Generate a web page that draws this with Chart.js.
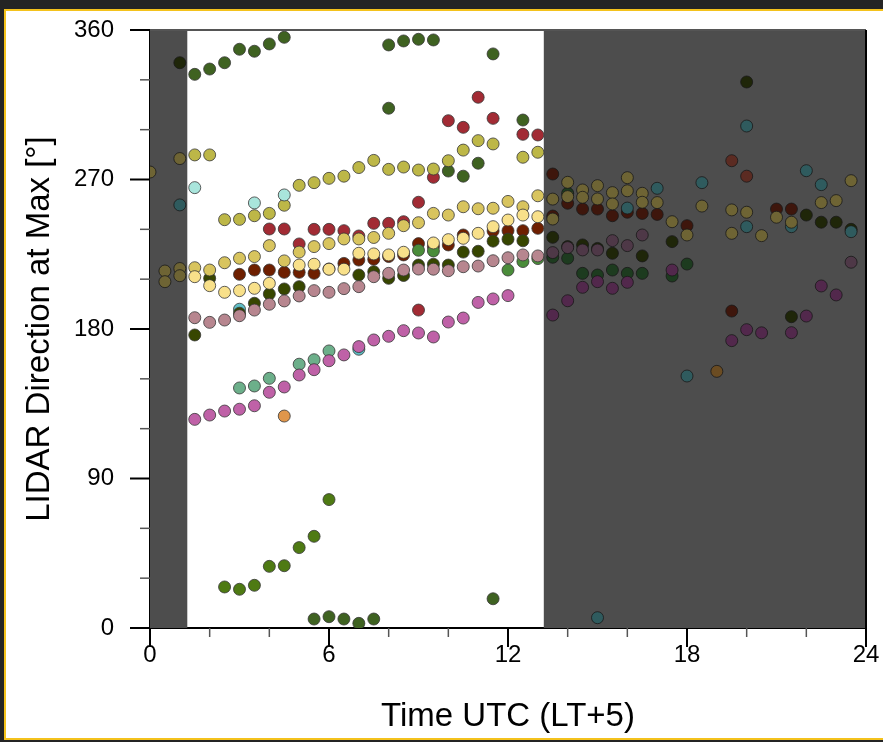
<!DOCTYPE html>
<html>
<head>
<meta charset="utf-8">
<title>LIDAR direction at max</title>
<script src="https://cdn.jsdelivr.net/npm/chart.js@4.4.1/dist/chart.umd.min.js"></script>
<style>
  html, body { margin: 0; padding: 0; background: #242424; overflow: hidden; }
  #frame { position: absolute; left: 4px; top: 9px; width: 900px; height: 727px; border: 2px solid #f4c21c; background: #fff; }
  #chart { position: absolute; left: 0; top: 0; }
</style>
</head>
<body>
<div id="frame"></div>
<canvas id="chart" width="883" height="742"></canvas>
<script>
// shaded (night) blocks, hours UTC
const nightEnd = 1.25;
const nightStart = 13.2;

const xTickValues = [0, 6, 12, 18, 24];
const xMinorTicks = [2, 4, 8, 10, 14, 16, 20, 22];
const yTickValues = [0, 90, 180, 270, 360];
const yMinorTicks = [30, 60, 120, 150, 210, 240, 300, 330];

// daytime series
const magentaX = [1.5, 2, 2.5, 3, 3.5, 4, 4.5, 5, 5.5, 6, 6.5, 7, 7.5, 8, 8.5, 9, 9.5, 10, 10.5, 11, 11.5, 12];
const magentaY = [125.6, 128.2, 130.6, 131.7, 133.8, 141.9, 145.1, 152.3, 155.5, 160.9, 164.4, 169.4, 173.4, 175.6, 179, 177.6, 175.2, 184.2, 186.6, 196, 198.1, 200.1];
const mauveX = [1.5, 2, 2.5, 3, 3.5, 4, 4.5, 5, 5.5, 6, 6.5, 7, 7.5, 8, 8.5, 9, 9.5, 10, 10.5, 11, 11.5, 12, 12.5, 13];
const mauveY = [186.8, 184, 185.4, 188, 191.4, 194.9, 196.9, 199.9, 203.1, 202.1, 204.3, 205.5, 211.5, 213.5, 215.5, 216.1, 216, 215.1, 217.5, 217.9, 221.1, 222.9, 224.6, 224];
const lightYellowX = [1.5, 2, 2.5, 3, 3.5, 4, 5, 5.5, 6, 6.5, 7, 7.5, 8, 8.5, 9.5, 10, 10.5, 11, 11.5, 12, 12.5, 13];
const lightYellowY = [211.5, 206.1, 202.1, 203.1, 204.5, 207.5, 218.5, 219, 216, 216, 225.6, 225.2, 224.6, 226.2, 231.8, 233.8, 234.6, 237.6, 241.6, 245.6, 248.6, 247.6];
const goldX = [1.5, 2, 2.5, 3, 3.5, 4, 4.5, 5, 5.5, 6, 6.5, 7, 7.5, 8, 8.5, 9, 9.5, 10, 10.5, 11, 11.5, 12, 12.5, 13];
const goldY = [216.9, 215.5, 219.9, 222.6, 223.6, 230.2, 221, 226.3, 229.6, 231.4, 234.2, 234.2, 235.1, 237.6, 242.2, 244, 249.6, 248.6, 253.6, 252.4, 252.7, 256.8, 253.6, 260.2];
const oliveX = [1.5, 2, 2.5, 3, 3.5, 4, 4.5, 5, 5.5, 6, 6.5, 7, 7.5, 8, 8.5, 9, 9.5, 10, 10.5, 11, 11.5, 12.5, 13];
const oliveY = [284.8, 284.8, 245.8, 246, 248.2, 249.6, 254.5, 266.5, 268.1, 270.7, 272, 277.2, 281.5, 276.1, 277.5, 275.7, 276.3, 281.3, 287.7, 293.4, 291.4, 283.4, 286.4];
const lightCyanX = [1.5, 3.5, 4.5];
const lightCyanY = [265.1, 255.9, 260.7];
const midGreenX = [9, 9.5, 12, 12.5, 13];
const midGreenY = [227.4, 227, 215.5, 220.6, 222.4];
const darkOliveX = [1.5, 2, 3, 3.5, 4, 4.5, 5, 7, 7.5, 8, 8.5, 9, 9.5, 10, 10.5, 11, 11.5, 12, 12.5];
const darkOliveY = [176.4, 210.5, 189.5, 195.5, 201.1, 204.1, 205.5, 212.5, 214.5, 210.5, 212.2, 218.5, 219, 218.5, 226.3, 226.8, 232.9, 234.1, 233.1];
const brownX = [3, 3.5, 4, 4.5, 5, 5.5, 6, 6.5, 7, 7.5, 8, 8.5, 9, 9.5, 10, 10.5, 11.5, 12, 12.5, 13];
const brownY = [212.9, 215.5, 215.5, 214.1, 214.1, 213.5, 216.1, 219.5, 221.5, 222, 223.6, 224.6, 231.4, 229.6, 230.6, 236.6, 239, 239.2, 239.2, 240.6];
const redX = [11, 10, 10.5, 11.5, 12.5, 13, 9.5, 9, 4, 4.5, 5.5, 6, 6.5, 7, 7.5, 8, 8.5, 5, 9];
const redY = [319.5, 305.4, 301.4, 306.8, 297.2, 296.8, 271.3, 256.3, 240.2, 240.2, 240, 240, 239.2, 236, 243.6, 243.6, 244.6, 231.2, 191.4];
const seafoamX = [3, 3.5, 4, 5, 5.5, 6];
const seafoamY = [144.5, 145.7, 150.3, 158.8, 161.5, 166.8];
const cyanX = [3, 7];
const cyanY = [191.9, 167.8];
const darkGreenX = [1.5, 2, 2.5, 3, 3.5, 4, 4.5, 8, 8.5, 9, 9.5, 11.5, 8, 12.5, 10, 10.5, 11, 5.5, 6, 6.5, 7, 7.5, 11.5];
const darkGreenY = [333.3, 336.5, 340.3, 348.4, 347.2, 351.6, 355.6, 351, 353.4, 354.4, 354, 345.6, 312.9, 305.8, 275.1, 272, 279.8, 5.4, 6.8, 5.4, 2.8, 5.4, 17.6];
const brightGreenX = [2.5, 3, 3.5, 4, 4.5, 5, 5.5, 6];
const brightGreenY = [24.7, 23.3, 25.7, 37.1, 37.5, 48.4, 55.2, 77.3];
const orangeX = [4.5];
const orangeY = [127.6];

// night series (drawn dim on the shading)
const nMagentaX = [13.5, 14, 14.5, 15, 15.5, 16, 17.5, 19.5, 20, 20.5, 21.5, 22, 22.5, 23];
const nMagentaY = [188.4, 197, 205.1, 208.5, 204.5, 208.1, 215.5, 173, 179.6, 177.7, 177.8, 187.8, 205.9, 200.5];
const nMauveX = [13.5, 14, 14.5, 15, 15.5, 16, 16.5, 23.5];
const nMauveY = [226, 229, 227.6, 227.6, 233.2, 230.2, 236.6, 220.2];
const nOliveX = [0, 0.5, 0.5, 1, 1, 1, 13.5, 13.5, 14, 14, 14.5, 14.5, 15, 15, 15.5, 15.5, 16, 16, 16.5, 16.5, 17, 17.5, 18, 18.5, 19.5, 19.5, 20, 20.5, 21, 21.5, 22.5, 23, 23.5];
const nOliveY = [274.5, 214.9, 208.5, 282.6, 216.4, 212.1, 258.2, 246.2, 268.3, 259.7, 263.7, 259.3, 266.3, 258.3, 262.1, 255.3, 271.1, 263.2, 261.7, 256.3, 256.1, 244.6, 236.6, 254, 251.7, 237.6, 250.3, 236.2, 247.3, 244.3, 256.1, 257.3, 269.3];
const nTealX = [1, 15, 16, 17, 18, 18.5, 20, 20, 21.5, 22, 22.5, 23.5];
const nTealY = [254.7, 6.2, 252.8, 264.7, 151.7, 268.1, 302.2, 241.6, 241.6, 275.3, 266.9, 238.6];
const nDarkOliveX = [1, 13.5, 14, 14.5, 15, 15.5, 16.5, 17.5, 20, 21.5, 22, 22.5, 23, 23.5];
const nDarkOliveY = [340.3, 235.2, 229.6, 230.6, 228.5, 225.6, 224, 232.6, 328.7, 187.4, 248.6, 244.3, 244.3, 240];
const nBrownX = [13.5, 13.5, 14, 14.5, 15, 15.5, 16, 16.5, 17, 18, 21, 21.5, 19.5];
const nBrownY = [273.3, 248, 255.7, 252.2, 252.2, 248.2, 250.3, 249.6, 249, 242.2, 252.2, 252.2, 190.8];
const nRedX = [19.5, 20];
const nRedY = [281.3, 272];
const nGreenX = [13.5, 14, 14, 14.5, 15, 15.5, 16, 16.5, 17.5, 18];
const nGreenY = [223.2, 261.7, 222.6, 213.5, 212.5, 215.5, 213.5, 213.5, 211.9, 219.1];
const nOrangeX = [19];
const nOrangeY = [154.5];

const FONT = "'Liberation Sans', Arial, Helvetica, sans-serif";

function series(label, xs, ys, color, night) {
  return {
    label,
    data: xs.map((x, i) => ({ x, y: ys[i] })),
    backgroundColor: color,
    borderColor: night ? "rgba(25,25,25,0.8)" : "rgba(55,55,55,0.8)",
    borderWidth: 1,
    pointRadius: 6,
    pointHoverRadius: 6
  };
}

// first dataset ends up on top
const datasets = [
  series("magenta", magentaX, magentaY, "#bf61a7"),
  series("mauve", mauveX, mauveY, "#b7868f"),
  series("lightYellow", lightYellowX, lightYellowY, "#f8e08a"),
  series("gold", goldX, goldY, "#d8c45e"),
  series("lightCyan", lightCyanX, lightCyanY, "#a9e5dc"),
  series("olive", oliveX, oliveY, "#bdb747"),
  series("midGreen", midGreenX, midGreenY, "#4a8c3a"),
  series("darkOlive", darkOliveX, darkOliveY, "#374600"),
  series("brown", brownX, brownY, "#6e1f00"),
  series("red", redX, redY, "#a22b34"),
  series("seafoam", seafoamX, seafoamY, "#6caf8a"),
  series("cyan", cyanX, cyanY, "#5fbfc6"),
  series("darkGreen", darkGreenX, darkGreenY, "#3f6221"),
  series("brightGreen", brightGreenX, brightGreenY, "#4e7a13"),
  series("orange", orangeX, orangeY, "#e0964b"),
  series("nMagenta", nMagentaX, nMagentaY, "#52284c", true),
  series("nMauve", nMauveX, nMauveY, "#4e3847", true),
  series("nOlive", nOliveX, nOliveY, "#6e6434", true),
  series("nTeal", nTealX, nTealY, "#2f5b5e", true),
  series("nDarkOlive", nDarkOliveX, nDarkOliveY, "#1f2609", true),
  series("nBrown", nBrownX, nBrownY, "#3e160c", true),
  series("nRed", nRedX, nRedY, "#5b2b22", true),
  series("nGreen", nGreenX, nGreenY, "#1d3b1f", true),
  series("nOrange", nOrangeX, nOrangeY, "#6b4c22", true)
];

const shading = {
  id: "shading",
  beforeDatasetsDraw(chart) {
    const { ctx, chartArea, scales: { x } } = chart;
    ctx.save();
    ctx.fillStyle = "#4d4d4d";
    const a = x.getPixelForValue(0), b = x.getPixelForValue(nightEnd);
    const c = x.getPixelForValue(nightStart), d = x.getPixelForValue(24);
    ctx.fillRect(a, chartArea.top, b - a, chartArea.bottom - chartArea.top);
    ctx.fillRect(c, chartArea.top, d - c, chartArea.bottom - chartArea.top);
    ctx.restore();
  }
};

const frameTicks = {
  id: "frameTicks",
  afterDraw(chart) {
    const { ctx, chartArea, scales: { x, y } } = chart;
    ctx.save();
    // top + right frame
    ctx.lineWidth = 2;
    ctx.strokeStyle = "#555";
    ctx.beginPath();
    ctx.moveTo(chartArea.left, chartArea.top);
    ctx.lineTo(chartArea.right, chartArea.top);
    ctx.stroke();
    ctx.strokeStyle = "#000";
    ctx.beginPath();
    ctx.moveTo(chartArea.right, chartArea.top);
    ctx.lineTo(chartArea.right, chartArea.bottom);
    ctx.stroke();

    const tick = (x1, y1, x2, y2, major) => {
      ctx.strokeStyle = major ? "#000" : "#555";
      ctx.lineWidth = major ? 2 : 1.5;
      ctx.beginPath();
      ctx.moveTo(x1, y1);
      ctx.lineTo(x2, y2);
      ctx.stroke();
    };
    xTickValues.forEach((v) => { const p = x.getPixelForValue(v); tick(p, chartArea.bottom, p, chartArea.bottom + 19, true); });
    xMinorTicks.forEach((v) => { const p = x.getPixelForValue(v); tick(p, chartArea.bottom, p, chartArea.bottom + 9, false); });
    yTickValues.forEach((v) => { const p = y.getPixelForValue(v); tick(chartArea.left, p, chartArea.left - 20, p, true); });
    yMinorTicks.forEach((v) => { const p = y.getPixelForValue(v); tick(chartArea.left, p, chartArea.left - 10, p, false); });
    ctx.restore();
  }
};

new Chart(document.getElementById("chart"), {
  type: "scatter",
  data: { datasets },
  plugins: [shading, frameTicks],
  options: {
    responsive: false,
    animation: false,
    layout: { autoPadding: false, padding: { top: 30, right: 17, bottom: 0, left: 0 } },
    plugins: { legend: { display: false }, tooltip: { enabled: false } },
    scales: {
      x: {
        type: "linear",
        min: 0,
        max: 24,
        afterBuildTicks: (s) => { s.ticks = xTickValues.map((value) => ({ value })); },
        afterFit: (s) => { s.height = 114; s.paddingLeft = 0; s.paddingRight = 0; },
        grid: { display: false, drawTicks: false },
        border: { display: true, color: "#000", width: 2 },
        ticks: { color: "#000", padding: 13, font: { family: FONT, size: 24 }, maxRotation: 0 },
        title: { display: true, text: "Time UTC (LT+5)", color: "#000", font: { family: FONT, size: 33 }, padding: { top: 0, bottom: 5 } }
      },
      y: {
        type: "linear",
        min: 0,
        max: 360,
        afterBuildTicks: (s) => { s.ticks = yTickValues.map((value) => ({ value })); },
        afterFit: (s) => { s.width = 150; s.paddingTop = 0; s.paddingBottom = 0; },
        grid: { display: false, drawTicks: false },
        border: { display: true, color: "#000", width: 2 },
        ticks: { color: "#000", padding: 36, font: { family: FONT, size: 24 } },
        title: { display: true, text: "LIDAR Direction at Max [°]", color: "#000", font: { family: FONT, size: 33 }, padding: { top: 20, bottom: 0 } }
      }
    }
  }
});
</script>
</body>
</html>
